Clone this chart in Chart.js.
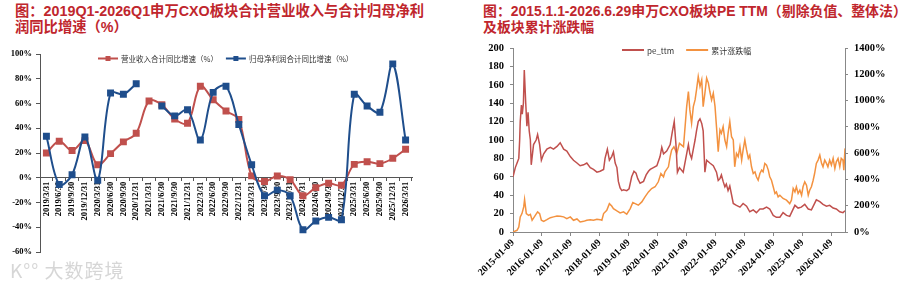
<!DOCTYPE html>
<html lang="zh-CN">
<head>
<meta charset="utf-8">
<title>申万CXO板块</title>
<script src="https://cdn.jsdelivr.net/npm/chart.js@4.4.1/dist/chart.umd.min.js"></script>
<style>
  html, body { margin:0; padding:0; background:#fff; }
  body { position:relative; width:900px; height:288px; overflow:hidden;
         font-family:"Liberation Sans","Noto Sans CJK SC",sans-serif; }
  .ttl { position:absolute; top:3px; color:#c0262d; font-weight:700; line-height:16px; white-space:nowrap; }
  #ttlL { left:15px; font-size:14.3px; }
  #ttlR { left:483px; font-size:13.9px; }
  canvas { position:absolute; }
  #cL { left:0; top:40px; }
  #cR { left:450px; top:40px; }
  #wm { position:absolute; left:10px; top:256px; font-family:"Noto Sans CJK SC",sans-serif;
        font-size:19px; color:rgba(180,180,180,.55); letter-spacing:1px; }
</style>
</head>
<body>
<div class="ttl" id="ttlL">图：2019Q1-2026Q1申万CXO板块合计营业收入与合计归母净利<br>润同比增速（%）</div>
<div class="ttl" id="ttlR">图：2015.1.1-2026.6.29申万CXO板块PE TTM（剔除负值、整体法）<br>及板块累计涨跌幅</div>
<canvas id="cL" width="450" height="235"></canvas>
<canvas id="cR" width="450" height="248"></canvas>
<div id="wm">K°° 大数跨境</div>

<script>
/* ---------- 左图：季度同比增速 ---------- */
const quarterLabels = [
  '2019/3/31','2019/6/30','2019/9/30','2019/12/31',
  '2020/3/31','2020/6/30','2020/9/30','2020/12/31',
  '2021/3/31','2021/6/30','2021/9/30','2021/12/31',
  '2022/3/31','2022/6/30','2022/9/30','2022/12/31',
  '2023/3/31','2023/6/30','2023/9/30','2023/12/31',
  '2024/3/31','2024/6/30','2024/9/30','2024/12/31',
  '2025/3/31','2025/6/30','2025/9/30','2025/12/31',
  '2026/3/31'
];
// 营业收入合计同比增速（%）
const revenueYoY = [20, 29.5, 22, 30, 10.5, 19.5, 29, 36, 62, 59, 47.5, 44, 74, 63, 54, 47,
                    1.5, -3, 1.4, -1.5, -14.5, -8, -4.5, -6, 10.8, 13, 11.4, 15.7, 23];
// 归母净利润合计同比增速（%），2021Q1 缺值
const profitYoY  = [33.5, -5.5, 2.5, 33, -2, 68.5, 67.5, 76, null, 58, 50, 55, 30.5, 69, 74, 43,
                    10.5, -14.5, -10, -14.5, -42, -35, -32, -34, 67.5, 58, 53, 92, 30.5];

/* ---------- 右图：PE TTM 与累计涨跌幅 ---------- */
// 横轴：自 2015-01-09 起的年数
const yearTicks  = [0,1,2,3,4,5,6,7,8,9,10,11];
const yearLabels = ['2015-01-09','2016-01-09','2017-01-09','2018-01-09','2019-01-09','2020-01-09',
                    '2021-01-09','2022-01-09','2023-01-09','2024-01-09','2025-01-09','2026-01-09'];
const X_END = 11.47; // 2026-06-29

const peT = [0.00,0.08,0.14,0.20,0.23,0.25,0.29,0.32,0.36,0.39,0.44,0.48,0.52,0.56,0.60,0.63,0.71,0.80,0.85,0.92,
             0.98,1.06,1.17,1.29,1.40,1.52,1.63,1.75,1.86,1.98,2.09,2.21,2.32,2.44,2.55,2.67,2.78,2.90,3.01,3.13,
             3.18,3.26,3.33,3.41,3.47,3.53,3.59,3.64,3.70,3.76,3.82,3.93,4.01,4.10,4.18,4.25,4.31,4.39,4.51,4.60,
             4.68,4.74,4.85,4.97,5.08,5.14,5.20,5.31,5.43,5.51,5.57,5.63,5.68,5.75,5.88,5.97,6.06,6.11,6.17,6.23,
             6.29,6.34,6.40,6.46,6.52,6.57,6.63,6.69,6.80,6.92,7.03,7.09,7.15,7.20,7.26,7.32,7.37,7.43,7.49,7.61,
             7.72,7.84,7.95,8.07,8.18,8.30,8.41,8.53,8.64,8.76,8.87,8.99,9.10,9.22,9.33,9.45,9.56,9.74,9.85,9.96,
             10.08,10.20,10.31,10.48,10.60,10.71,10.83,10.94,11.06,11.17,11.29,11.40,11.47];
const peVal = [60,70,75,80,100,120,138,128,140,176,140,115,130,110,100,73,95,100,106,95,
               78,85,90,92,90,93,97,90,88,82,78,75,72,73,75,70,68,65,66,68,
               80,90,78,82,87,75,70,55,48,45,46,45,47,60,66,64,58,53,55,62,
               66,68,70,72,82,92,85,88,95,110,120,95,65,70,65,80,95,85,80,90,
               100,110,120,123,118,110,65,78,75,72,65,56,58,62,55,49,52,45,50,31,
               29,27,31,28,22,24,21,25,25,27,25,18,16,16,21,18,17,29,26,27,
               30,25,24,35,33,30,28,29,26,25,22,21,23];

const cumT = [0.00,0.14,0.20,0.25,0.31,0.37,0.40,0.46,0.54,0.60,0.66,0.77,0.85,0.92,0.98,1.06,1.17,1.29,1.40,1.52,
              1.63,1.75,1.86,1.98,2.09,2.21,2.32,2.44,2.55,2.67,2.78,2.90,3.01,3.07,3.13,3.24,3.33,3.41,3.47,3.59,
              3.70,3.82,3.93,4.05,4.14,4.22,4.33,4.45,4.56,4.68,4.79,4.91,5.02,5.11,5.20,5.25,5.37,5.43,5.48,5.56,
              5.66,5.75,5.89,6.00,6.06,6.11,6.17,6.23,6.29,6.34,6.40,6.46,6.52,6.57,6.63,6.69,6.75,6.80,6.86,6.92,
              6.98,7.03,7.09,7.15,7.20,7.26,7.32,7.38,7.43,7.49,7.55,7.61,7.66,7.72,7.78,7.84,7.90,7.95,8.01,8.07,
              8.13,8.18,8.24,8.30,8.36,8.41,8.47,8.53,8.59,8.64,8.70,8.76,8.82,8.87,8.93,8.99,9.05,9.10,9.16,9.22,
              9.33,9.45,9.56,9.62,9.68,9.74,9.79,9.85,9.91,9.97,10.02,10.08,10.14,10.20,10.25,10.31,10.37,10.42,10.48,10.54,
              10.60,10.66,10.71,10.77,10.83,10.88,10.94,11.00,11.06,11.12,11.17,11.23,11.29,11.34,11.40,11.43,11.47];
const cumVal = [0,13,38,114,140,191,247,140,127,134,89,127,153,140,89,81,94,109,115,122,
                120,115,102,115,89,99,76,81,89,94,89,97,94,89,140,165,216,198,178,160,
                145,153,135,178,224,216,204,229,267,305,331,344,382,445,420,458,496,573,624,649,
                598,674,649,954,1069,929,827,954,1005,1082,1183,1107,1158,954,1056,1171,1133,1069,1005,1056,
                954,802,611,776,751,802,700,649,751,840,725,700,496,598,573,649,547,624,700,624,
                560,585,496,445,458,420,394,445,471,458,522,509,471,420,394,344,293,305,267,280,
                255,242,216,242,331,305,344,293,318,280,344,382,356,280,318,344,394,445,522,547,
                585,522,496,547,522,496,547,509,560,483,534,560,496,560,547,471,636];

const SERIF = '"Liberation Serif","Times New Roman",serif';
const CJK   = '"Noto Sans CJK SC",sans-serif';

// 图内图例：线段 + (可选)方块标记 + 文字
const inLegend = {
  id: 'inLegend',
  afterDraw(chart, args, opts){
    const { ctx, chartArea } = chart;
    ctx.save();
    ctx.font = opts.font;
    ctx.textBaseline = 'middle';
    let x = chartArea.left + opts.startX;
    const y = chartArea.top + opts.offsetY;
    chart.data.datasets.forEach(ds=>{
      ctx.strokeStyle = ds.borderColor;
      ctx.lineWidth = opts.lineWidth;
      ctx.beginPath(); ctx.moveTo(x, y); ctx.lineTo(x + opts.lineLen, y); ctx.stroke();
      if(opts.marker){
        ctx.fillStyle = ds.borderColor;
        ctx.fillRect(x + opts.lineLen/2 - 2.5, y - 2.5, 5, 5);
      }
      ctx.fillStyle = '#333';
      ctx.fillText(ds.label, x + opts.lineLen + 3, y + 0.5);
      x += opts.lineLen + 3 + ctx.measureText(ds.label).width + opts.gap;
    });
    ctx.restore();
  }
};

const zeroPad = s => { s.paddingLeft = s.paddingRight = s.paddingTop = s.paddingBottom = 0; };

/* ---------- 左图 ---------- */
new Chart(document.getElementById('cL'), {
  type: 'line',
  data: {
    labels: quarterLabels,
    datasets: [
      { label:'营业收入合计同比增速（%）', data:revenueYoY, order:2,
        borderColor:'#c0504d', backgroundColor:'#c0504d', borderWidth:2,
        pointStyle:'rect', pointRadius:3.5, tension:0.35 },
      { label:'归母净利润合计同比增速（%）', data:profitYoY, order:1,
        borderColor:'#1f4e8c', backgroundColor:'#1f4e8c', borderWidth:2,
        pointStyle:'rect', pointRadius:3.5, tension:0.35, spanGaps:false }
    ]
  },
  options: {
    responsive:false, animation:false,
    layout:{ padding:{ top:14, right:38, bottom:23, left:0 } },
    plugins:{
      legend:{ display:false }, tooltip:{ enabled:false },
      inLegend:{ font:'7.5px '+CJK, startX:58, offsetY:4.5, lineLen:20, lineWidth:2, gap:8, marker:true }
    },
    scales:{
      x:{
        position:{ y:0 }, offset:true,
        grid:{ offset:true, drawOnChartArea:false, tickLength:3, color:'#555' },
        border:{ color:'#555' },
        ticks:{ autoSkip:false, minRotation:90, maxRotation:90, padding:1, color:'#000',
                font:{ family:SERIF, size:8.5, weight:'bold' } },
        afterFit: s => { s.height = 0; zeroPad(s); }
      },
      y:{
        min:-60, max:100,
        grid:{ drawOnChartArea:false, tickLength:4, color:'#555' },
        border:{ color:'#555' },
        ticks:{ stepSize:20, padding:4, color:'#000', callback: v => v + '%',
                font:{ family:SERIF, size:8.5, weight:'bold' } },
        afterFit: s => { s.width = 40; zeroPad(s); }
      }
    }
  },
  plugins:[inLegend]
});

/* ---------- 右图 ---------- */
new Chart(document.getElementById('cR'), {
  type: 'line',
  data: {
    datasets: [
      { label:'pe_ttm', data: peT.map((t,i)=>({ x:t, y:peVal[i] })), yAxisID:'y',
        borderColor:'#c0504d', borderWidth:1.5, pointRadius:0, tension:0 },
      { label:'累计涨跌幅', data: cumT.map((t,i)=>({ x:t, y:cumVal[i] })), yAxisID:'y1',
        borderColor:'#f39240', borderWidth:1.5, pointRadius:0, tension:0 }
    ]
  },
  options: {
    responsive:false, animation:false,
    layout:{ padding:{ top:8, right:0, bottom:0, left:0 } },
    plugins:{
      legend:{ display:false }, tooltip:{ enabled:false },
      inLegend:{ font:'8px '+CJK, startX:109, offsetY:2, lineLen:22, lineWidth:2, gap:12, marker:false }
    },
    scales:{
      x:{
        type:'linear', min:0, max:X_END,
        afterBuildTicks: s => { s.ticks = yearTicks.map(v => ({ value:v })); },
        grid:{ drawOnChartArea:false, tickLength:4, color:'#888' },
        border:{ color:'#888' },
        ticks:{ autoSkip:false, minRotation:45, maxRotation:45, padding:1, color:'#000',
                callback: (v, i) => yearLabels[i],
                font:{ family:SERIF, size:10, weight:'bold' } },
        afterFit: s => { s.height = 56; zeroPad(s); }
      },
      y:{
        position:'left', min:0, max:200,
        grid:{ drawOnChartArea:false, tickLength:3, color:'#888' },
        border:{ color:'#888' },
        ticks:{ stepSize:20, padding:6, color:'#000',
                font:{ family:SERIF, size:10.5, weight:'bold' } },
        afterFit: s => { s.width = 63; zeroPad(s); }
      },
      y1:{
        position:'right', min:0, max:1400,
        grid:{ drawOnChartArea:false, tickLength:3, color:'#888' },
        border:{ color:'#888' },
        ticks:{ stepSize:200, padding:6, color:'#000', callback: v => v + '%',
                font:{ family:SERIF, size:10.5, weight:'bold' } },
        afterFit: s => { s.width = 55; zeroPad(s); }
      }
    }
  },
  plugins:[inLegend]
});
</script>
</body>
</html>
